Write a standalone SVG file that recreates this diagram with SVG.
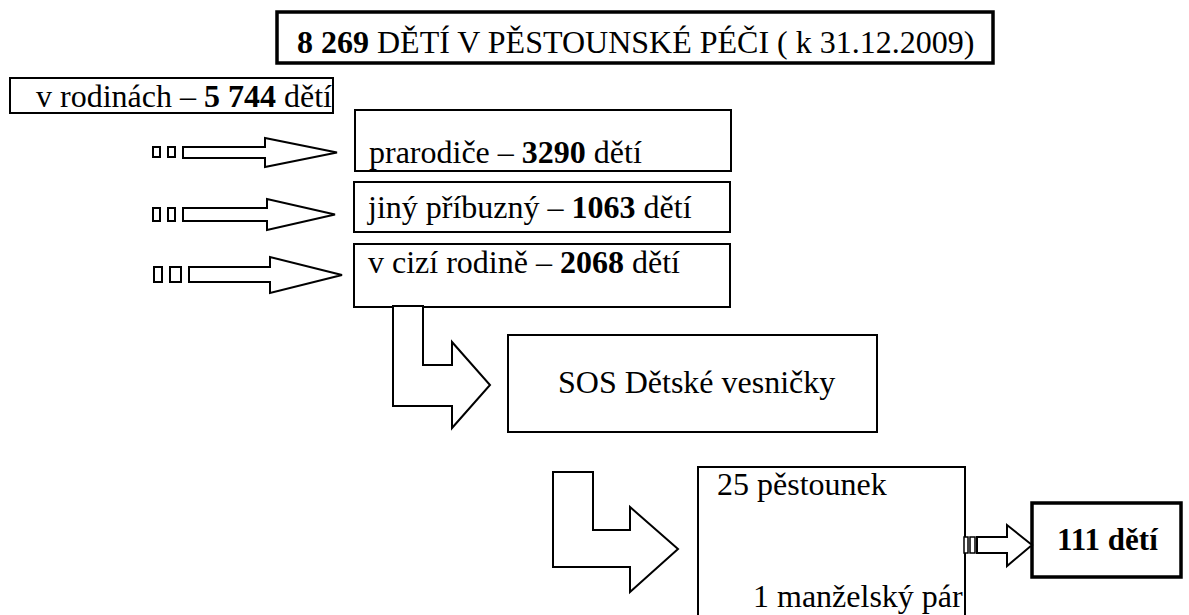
<svg xmlns="http://www.w3.org/2000/svg" width="1189" height="615" viewBox="0 0 1189 615">
<style>
.b{font-weight:bold}
.box{fill:#fff;stroke:#000;stroke-width:2}
.thick{fill:#fff;stroke:#000;stroke-width:3.5}
.arr{fill:#fff;stroke:#000;stroke-width:2;stroke-linejoin:miter}
</style>
<rect width="1189" height="615" fill="#fff"/>
<g id="title">
<rect class="thick" x="277" y="12" width="716" height="51"/>
<text x="297" y="53" style="font-family:'Liberation Serif',serif;font-size:32px"><tspan class="b">8 269</tspan> DĚTÍ V PĚSTOUNSKÉ PÉČI ( k 31.12.2009)</text>
</g>
<g id="rodiny">
<rect class="box" x="10" y="78" width="323" height="35"/>
<text x="36" y="107" style="font-family:'Liberation Serif',serif;font-size:32px">v rodinách – <tspan class="b">5 744</tspan> dětí</text>
</g>
<g id="prarodice">
<rect class="box" x="355" y="110" width="376" height="61"/>
<text x="369" y="163" style="font-family:'Liberation Serif',serif;font-size:32px">prarodiče – <tspan class="b">3290</tspan> dětí</text>
</g>
<g id="pribuzny">
<rect class="box" x="354" y="182" width="376" height="50"/>
<text x="368" y="218" style="font-family:'Liberation Serif',serif;font-size:32px">jiný příbuzný – <tspan class="b">1063</tspan> dětí</text>
</g>
<g id="cizi">
<rect class="box" x="354" y="244" width="376" height="63"/>
<text x="368" y="273" style="font-family:'Liberation Serif',serif;font-size:32px">v cizí rodině – <tspan class="b">2068</tspan> dětí</text>
</g>
<g id="sos">
<rect class="box" x="508" y="335" width="369" height="97"/>
<text x="558" y="393" style="font-family:'Liberation Serif',serif;font-size:32px">SOS Dětské vesničky</text>
</g>
<g id="pestounky">
<rect class="box" x="698" y="467" width="267" height="160"/>
<text x="717" y="495" style="font-family:'Liberation Serif',serif;font-size:32px">25 pěstounek</text>
<text x="753" y="607" style="font-family:'Liberation Serif',serif;font-size:32px">1 manželský pár</text>
</g>
<g id="deti111">
<rect class="thick" x="1032" y="503" width="149" height="74"/>
<text class="b" x="1057" y="550" style="font-family:'Liberation Serif',serif;font-size:31px">111 dětí</text>
</g>
<g id="connectors">
<rect class="arr" x="153" y="147" width="7" height="10"/>
<rect class="arr" x="168" y="147" width="7" height="10"/>
<polygon class="arr" points="183,147 265,147 265,138 337,152.5 265,167 265,158 183,158"/>
<rect class="arr" x="153" y="208" width="7" height="13"/>
<rect class="arr" x="168" y="208" width="7" height="13"/>
<polygon class="arr" points="183,208 267,208 267,199 335,214.5 267,230 267,221 183,221"/>
<rect class="arr" x="154" y="267" width="8" height="15"/>
<rect class="arr" x="170" y="267" width="11" height="15"/>
<polygon class="arr" points="189,267 270,267 270,257 342,275 270,293 270,282 189,282"/>
<polygon class="arr" points="393,306 423,306 423,365 452,365 452,342 490,385 452,428 452,406 393,406"/>
<polygon class="arr" points="553,472 593,472 593,530 630,530 630,507 678,549 630,592 630,567 553,567"/>
<rect class="arr" x="964" y="537" width="4" height="16" style="stroke-width:1.5"/>
<rect class="arr" x="970" y="537" width="5" height="16" style="stroke-width:1.5"/>
<polygon class="arr" points="977,537 1007,537 1007,525 1032,545 1007,566 1007,553 977,553"/>
</g>
</svg>
